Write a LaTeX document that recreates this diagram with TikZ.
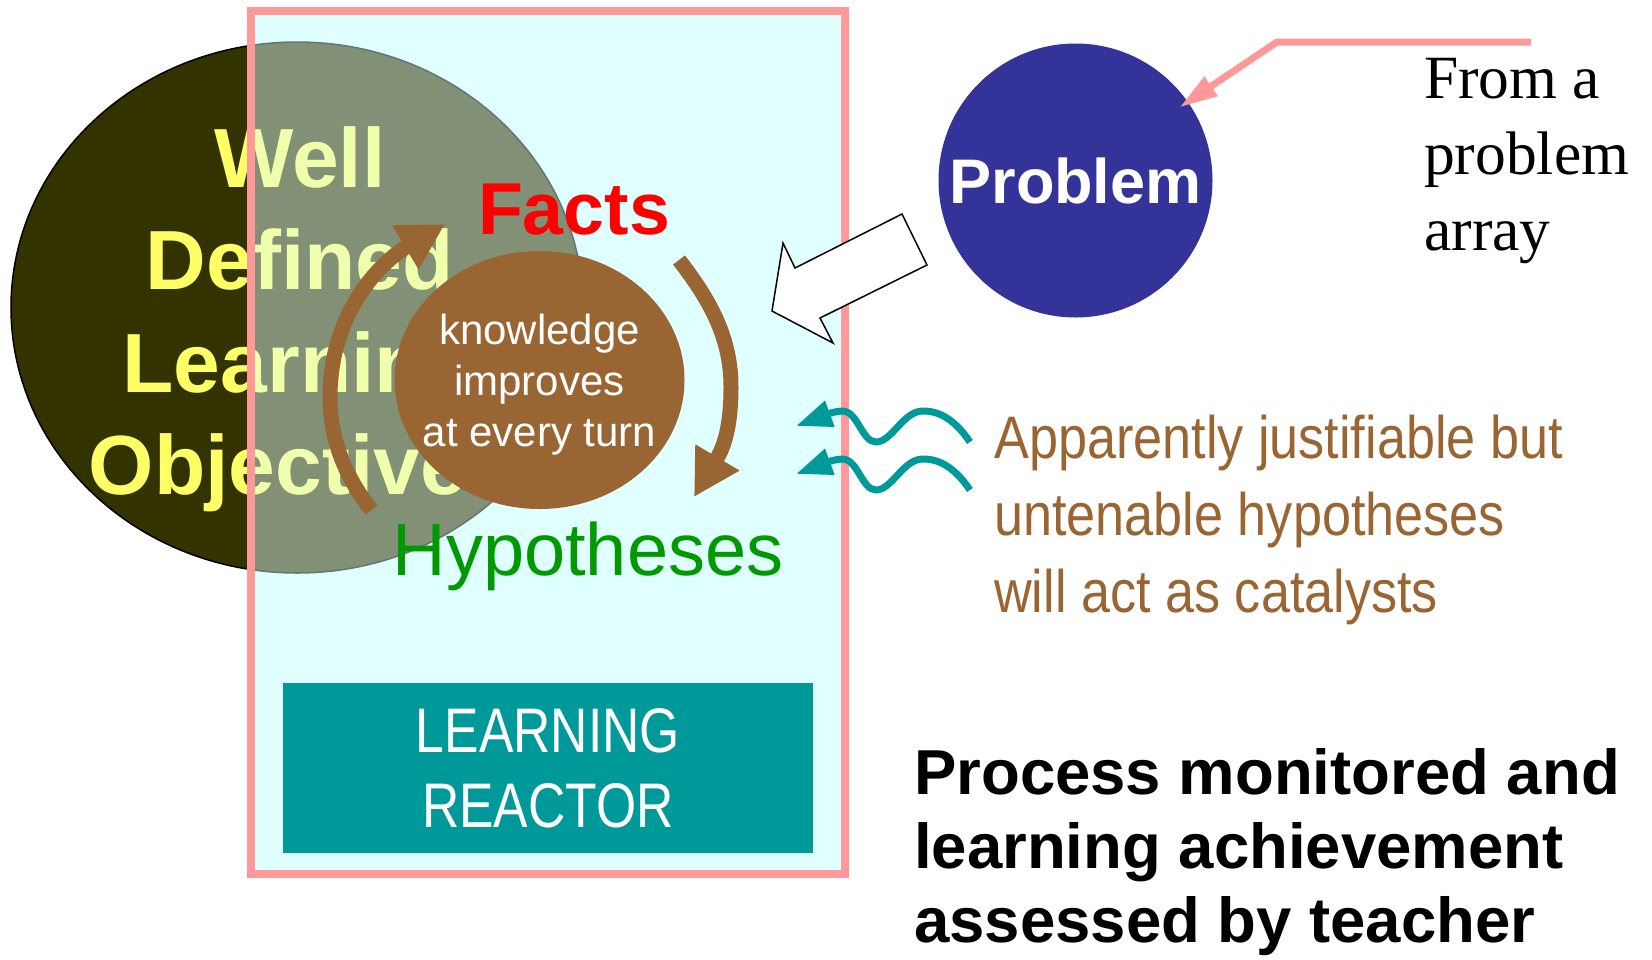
\documentclass[tikz,border=0pt]{standalone}
\usepackage{fontspec}
\setmainfont{Liberation Sans}
\newfontfamily\serifF{Liberation Serif}
\newfontfamily\narrowA[FakeStretch=0.87]{Liberation Sans}
\newfontfamily\narrowB[FakeStretch=0.82]{Liberation Sans}
\usetikzlibrary{arrows.meta,shapes.geometric}

\definecolor{pinkc}{HTML}{FF9999}
\definecolor{cyanbg}{HTML}{E0FFFF}
\definecolor{olivec}{HTML}{333300}
\definecolor{ylw}{HTML}{FFFF66}
\definecolor{brownc}{HTML}{996633}
\definecolor{tealc}{HTML}{009999}
\definecolor{probblue}{HTML}{333399}
\definecolor{factred}{HTML}{FF0000}
\definecolor{hypgreen}{HTML}{009900}

\newcommand{\fsz}[2]{\fontsize{#1}{#2}\selectfont}

\begin{document}
\begin{tikzpicture}[x=1pt,y=-1pt,
  txt/.style={inner sep=0pt},
  cyclearrow/.style={brownc, line width=15pt, -{Triangle[length=46pt,width=48pt]}},
  wavearrow/.style={tealc, line width=7pt, -{Triangle[length=36pt,width=26pt]}},
  pinkarrow/.style={pinkc, line width=7pt, -{Triangle[length=38pt,width=22pt]}},
  blockarrow/.style={fill=white, draw=black, line width=1.5pt, line join=miter}
]
\useasboundingbox (0,0) rectangle (1652,959);

% reactor background (under the objective ellipse)
\fill[cyanbg] (251,11) rectangle (845,874);

% Well defined learning objective ellipse
\node[ellipse, fill=olivec, draw=black, line width=1.5pt, minimum width=572pt, minimum height=531pt, inner sep=0pt] (obj) at (297,307.5) {};
\node[txt, font=\bfseries\fsz{84}{102.5}, text=ylw, align=center, anchor=north] (objtxt) at (300,126) {Well\\Defined\\Learning\\Objective\hspace*{44pt}};

% reactor frame with translucent fill
\node[draw=pinkc, line width=8pt, fill=cyanbg, fill opacity=0.46, minimum width=594pt, minimum height=863pt, inner sep=0pt] (frame) at (548,442.5) {};

% knowledge circle
\node[ellipse, fill=brownc, minimum width=290pt, minimum height=258pt, inner sep=0pt] (know) at (539.5,380) {};
\node[txt, font=\fsz{42}{51}, text=white, align=center, anchor=north] (knowtxt) at (539.5,314) {knowledge\\improves\\at every turn};

% cycle arrows
\coordinate (la) at (371.5,510);
\coordinate (lt) at (445,224);
\draw[cyclearrow] (la) .. controls (343.6,475) and (330,437) .. (330,397) .. controls (330,317) and (376,265) .. (lt);
\coordinate (ra) at (679,260);
\coordinate (rt) at (694,497);
\draw[cyclearrow] (ra) .. controls (709.5,299.5) and (731,337) .. (731,387) .. controls (731,437) and (719.5,454) .. (rt);

% labels
\node[txt, font=\bfseries\fsz{73.5}{80}, text=factred, anchor=base] (facts) at (574,234) {Facts};
\node[txt, font=\fsz{74}{80}, text=hypgreen, anchor=base] (hyp) at (588,575) {Hypotheses};

% learning reactor box
\node[fill=tealc, minimum width=530pt, minimum height=170pt, inner sep=0pt, text=white, font=\narrowB\fsz{63}{75}, align=center] (reactor) at (548,768) {LEARNING\\REACTOR};

% problem
\node[circle, fill=probblue, minimum size=274pt, inner sep=0pt, text=white, font=\bfseries\fsz{63}{70}] (prob) at (1075.5,180.5) {Problem};

\coordinate (pa) at (1531,42);
\coordinate (pb) at (1277,42);
\draw[pinkarrow, shorten >=-10pt] (pa) -- (pb) -- (prob.35);

\node[txt, font=\serifF\fsz{61.5}{76}, align=left, anchor=north west] (from) at (1424,58) {From a\\problem\\array};

% block arrow from problem into reactor
\draw[blockarrow] (772,311) -- (783,243) -- (795,268) -- (902,214) -- (927,265) -- (820,318) -- (833,343) -- cycle;

% wavy catalyst arrows
\foreach \d/\n in {0/1,48/2} {
  \coordinate (ws\n) at (970,442+\d);
  \coordinate (we\n) at (796,426+\d);
  \draw[wavearrow] (ws\n) .. controls (955,420+\d) and (940,411+\d) .. (923,411+\d)
     .. controls (903,411+\d) and (892,442+\d) .. (876,442+\d)
     .. controls (862,442+\d) and (858,412+\d) .. (843,411+\d)
     .. controls (832,411+\d) and (818,418+\d) .. (we\n);
}

\node[txt, font=\narrowA\fsz{60}{77}, text=brownc, align=left, anchor=north west] (cat) at (994,415) {Apparently justifiable but\\untenable hypotheses\\will act as catalysts};

\node[txt, font=\bfseries\fsz{63.5}{74}, align=left, anchor=north west] (proc) at (914,748) {Process monitored and\\learning achievement\\assessed by teacher};
\end{tikzpicture}
\end{document}
